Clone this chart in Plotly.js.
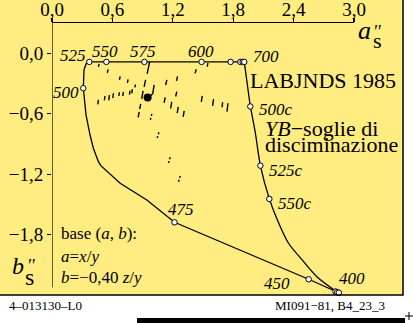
<!DOCTYPE html>
<html><head><meta charset="utf-8">
<script src="https://cdn.plot.ly/plotly-3.0.1.min.js"></script>
<style>html,body{margin:0;padding:0;background:#fff}#chart{width:413px;height:323px}</style>
</head><body><div id="chart"></div>
<script>
// ---------- data (a = x/y, b = -0.40 z/y) ----------
// left part of the boundary: 400 -> 450 -> 475 -> ... -> 500 -> 525
const leftA = [2.831, 2.550, 1.217, 0.942, 0.677, 0.485, 0.461, 0.411, 0.378, 0.338, 0.318, 0.311, 0.318, 0.338, 0.371];
const leftB = [-2.368, -2.242, -1.677, -1.455, -1.290, -1.115, -1.075, -0.942, -0.811, -0.612, -0.414, -0.347, -0.166, -0.106, -0.086];
// top line: 525 -> 700 -> 500c
const topA = [0.371, 0.540, 0.918, 1.486, 1.774, 1.871, 1.894, 1.910, 1.970];
const topB = [-0.086, -0.086, -0.086, -0.086, -0.086, -0.086, -0.086, -0.086, -0.528];
// right curve: 500c -> 525c -> 550c -> 400
const rightA = [1.970, 2.020, 2.070, 2.159, 2.239, 2.348, 2.485, 2.634, 2.831];
const rightB = [-0.528, -0.791, -1.115, -1.445, -1.654, -1.882, -2.050, -2.219, -2.368];
// hue sample points (open circles)
const markA = [2.816, 2.833, 2.849, 2.550, 1.217, 0.311, 0.371, 0.540, 0.918, 1.486, 1.774, 1.871, 1.894, 1.910, 1.970, 2.070, 2.159];
const markB = [-2.363, -2.371, -2.375, -2.242, -1.677, -0.347, -0.086, -0.086, -0.086, -0.086, -0.086, -0.086, -0.086, -0.086, -0.528, -1.115, -1.445];
// hue labels and the point they belong to
const hueText = ['400', '450', '475', '500', '525', '550', '575', '600', '700', '500c', '525c', '550c'];
const hueA = [2.833, 2.550, 1.217, 0.311, 0.371, 0.540, 0.918, 1.486, 1.910, 1.970, 2.070, 2.159];
const hueB = [-2.371, -2.242, -1.677, -0.347, -0.086, -0.086, -0.086, -0.086, -0.086, -0.528, -1.115, -1.445];
// threshold dashes (solid): start / end
const dashA0 = [0.468, 0.557, 0.677, 0.756, 0.829, 0.970, 0.930, 0.905, 0.881, 0.866, 1.015, 1.000, 1.141, 1.247, 1.433, 1.549, 1.493, 1.239, 1.124, 1.189, 1.254, 1.313, 1.605, 1.695, 1.748, 0.461, 0.527, 0.570, 0.610, 0.670, 0.709, 0.776, 0.799];
const dashB0 = [-0.106, -0.161, -0.230, -0.260, -0.310, -0.086, -0.265, -0.374, -0.503, -0.582, -0.314, -0.402, -0.265, -0.230, -0.159, -0.099, -0.424, -0.381, -0.438, -0.483, -0.533, -0.572, -0.456, -0.486, -0.496, -0.463, -0.424, -0.414, -0.397, -0.387, -0.384, -0.371, -0.357];
const dashA1 = [0.461, 0.550, 0.670, 0.749, 0.823, 0.945, 0.915, 0.891, 0.871, 0.856, 1.000, 0.982, 1.129, 1.237, 1.421, 1.542, 1.483, 1.229, 1.114, 1.179, 1.244, 1.303, 1.595, 1.689, 1.738, 0.455, 0.520, 0.564, 0.604, 0.664, 0.703, 0.769, 0.792];
const dashB1 = [-0.136, -0.195, -0.265, -0.294, -0.339, -0.205, -0.334, -0.453, -0.553, -0.635, -0.402, -0.420, -0.315, -0.275, -0.200, -0.133, -0.483, -0.429, -0.493, -0.548, -0.593, -0.632, -0.523, -0.536, -0.579, -0.508, -0.468, -0.468, -0.446, -0.424, -0.424, -0.411, -0.397];
// faint (dotted) dashes
const dotA0 = [0.992, 1.062, 1.174, 1.274];
const dotB0 = [-0.602, -0.784, -1.032, -1.217];
const dotA1 = [0.975, 1.042, 1.154, 1.254];
const dotB1 = [-0.669, -0.850, -1.098, -1.284];
// reference centre point
const centreA = [0.950];
const centreB = [-0.440];
// axis ticks
const xTicks = [0.0, 0.6, 1.2, 1.8, 2.4, 3.0];
const yTicks = [0.0, -0.6, -1.2, -1.8];

// ---------- drawing ----------
const FONT = '"Liberation Serif", "Times New Roman", serif';
const BLACK = '#000';
function segs(a0, b0, a1, b1) {
  const x = [], y = [];
  for (let i = 0; i < a0.length; i++) { x.push(a0[i], a1[i], null); y.push(b0[i], b1[i], null); }
  return {x, y};
}
const sd = segs(dashA0, dashB0, dashA1, dashB1);
const dd = segs(dotA0, dotB0, dotA1, dotB1);

const traces = [
  {x: leftA, y: leftB, mode: 'lines', line: {color: BLACK, width: 1.3}, cliponaxis: false, hoverinfo: 'skip'},
  {x: topA, y: topB, mode: 'lines', line: {color: BLACK, width: 1.3}, cliponaxis: false, hoverinfo: 'skip'},
  {x: rightA, y: rightB, mode: 'lines', line: {color: BLACK, width: 1.3, shape: 'spline', smoothing: 0.8}, cliponaxis: false, hoverinfo: 'skip'},
  {x: sd.x, y: sd.y, mode: 'lines', line: {color: BLACK, width: 1.4}, connectgaps: false, hoverinfo: 'skip'},
  {x: dd.x, y: dd.y, mode: 'lines', line: {color: BLACK, width: 1.4, dash: '2px,2px'}, connectgaps: false, hoverinfo: 'skip'},
  {x: markA, y: markB, mode: 'markers', marker: {size: 5.5, color: '#fff', line: {color: BLACK, width: 1}}, cliponaxis: false, hoverinfo: 'skip'},
  {x: centreA, y: centreB, mode: 'markers', marker: {size: 8, color: BLACK}, hoverinfo: 'skip'}
];

// paper helpers: plot area spans px 52..354 horizontally, py 23..295 vertically
const PX = px => (px - 52) / 302;
const PY = py => (295 - py) / 272;
function txt(text, px, baseline, size, xanchor) {
  return {xref: 'paper', yref: 'paper', x: PX(px), y: PY(baseline - 0.3 * size), text: text,
    showarrow: false, xanchor: xanchor || 'center', yanchor: 'middle',
    font: {family: FONT, size: size, color: BLACK}};
}
// offsets (px) of hue labels from their points
const hueDx = [15.3, -31.6, 6.2, -16.9, -16.8, -1.3, -1.3, -0.8, 21.5, 25.5, 26, 26];
const hueDy = [-16.3, 1.4, -16.3, 1, -9, -13, -13, -13, -8.7, 0, 2.3, 2];
const annotations = hueText.map((t, i) => ({
  x: hueA[i], y: hueB[i], xref: 'x', yref: 'y', text: '<i>' + t + '</i>', showarrow: false,
  xanchor: 'center', yanchor: 'middle', xshift: hueDx[i], yshift: -hueDy[i] - 3,
  font: {family: FONT, size: 17, color: BLACK}
}));
annotations.push(
  txt('LABJNDS 1985', 323, 87.3, 22),
  txt('<i>YB</i>\u2212soglie di', 263, 135.5, 22, 'left'),
  txt('disciminazione', 263, 151, 22, 'left'),
  txt('base (<i>a</i>, <i>b</i>):', 59, 239, 17, 'left'),
  txt('<i>a</i>=<i>x</i>/<i>y</i>', 59, 261.7, 17, 'left'),
  txt('<i>b</i>=\u22120,40 <i>z</i>/<i>y</i>', 59, 283, 17, 'left'),
  txt('4\u2013013130\u2013L0', 7, 309.3, 13, 'left'),
  txt('MI091\u221281, B4_23_3', 330, 309.3, 13),
  txt('<i>a</i>', 364, 38.3, 26),
  txt("<i>''</i>", 377, 37, 18),
  txt('s', 377, 47, 22),
  txt('<i>b</i>', 17.5, 273.3, 24),
  txt("<i>''</i>", 31, 271, 18),
  txt('s', 29.7, 284, 24)
);

const shapes = [
  // yellow panel
  {type: 'rect', xref: 'paper', yref: 'paper', x0: PX(0), x1: PX(403), y0: PY(295), y1: PY(0), fillcolor: '#FFED82', line: {width: 0}, layer: 'below'},
  {type: 'line', xref: 'paper', yref: 'paper', x0: PX(403), x1: PX(403), y0: PY(295), y1: PY(0), line: {color: BLACK, width: 1.5}},
  {type: 'line', xref: 'paper', yref: 'paper', x0: PX(0), x1: PX(403.7), y0: PY(295), y1: PY(295), line: {color: BLACK, width: 1.5}},
  // left axis line (stops short of the panel bottom)
  {type: 'line', xref: 'x', yref: 'y', x0: 0, x1: 0, y0: 0.3, y1: -2.32, line: {color: BLACK, width: 1.2}},
  // black bar and cross mark at the foot
  {type: 'rect', xref: 'paper', yref: 'paper', x0: PX(137), x1: PX(405), y0: PY(323), y1: PY(318), fillcolor: BLACK, line: {width: 0}},
  {type: 'line', xref: 'paper', yref: 'paper', x0: PX(405), x1: PX(413), y0: PY(316), y1: PY(316), line: {color: BLACK, width: 1}},
  {type: 'line', xref: 'paper', yref: 'paper', x0: PX(409), x1: PX(409), y0: PY(312), y1: PY(320), line: {color: BLACK, width: 1}}
];

const layout = {
  width: 413, height: 323,
  margin: {l: 52, r: 59, t: 23, b: 28, pad: 0},
  paper_bgcolor: '#fff', plot_bgcolor: 'rgba(0,0,0,0)',
  showlegend: false, separators: ',.',
  font: {family: FONT, color: BLACK},
  xaxis: {side: 'top', range: [0, 3.0], tickvals: xTicks, tickformat: '.1f', showline: true, linecolor: BLACK, linewidth: 1.2,
    ticks: 'outside', ticklen: 4, tickcolor: BLACK, tickwidth: 1.2, showgrid: false, zeroline: false,
    ticklabelstandoff: -6,
    tickfont: {family: FONT, size: 19, color: BLACK}},
  yaxis: {range: [-2.398, 0.3], tickvals: yTicks, tickformat: '.1f', showline: false,
    ticks: 'outside', ticklen: 4, tickcolor: BLACK, tickwidth: 1.2, showgrid: false, zeroline: false,
    tickfont: {family: FONT, size: 19, color: BLACK}},
  shapes: shapes,
  annotations: annotations
};
Plotly.newPlot('chart', traces, layout, {staticPlot: true, displayModeBar: false});
</script></body></html>
